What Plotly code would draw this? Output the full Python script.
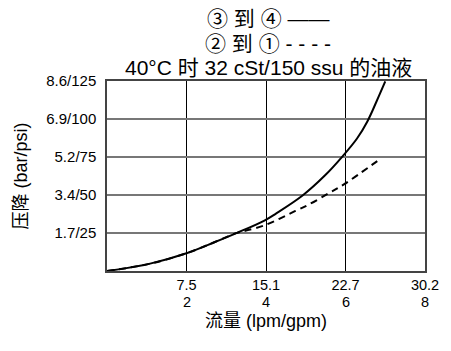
import plotly.graph_objects as go

# Data (flow gpm, pressure drop psi)
solid_x = [0, 1.06, 2.0, 2.7, 3.27, 3.96, 4.25, 4.92, 5.48, 5.92, 6.29, 6.55, 6.78, 7.0]
solid_y = [0, 4.7, 11.7, 18.9, 25.1, 33.2, 37.8, 49.7, 62.8, 75.3, 87.2, 98.4, 111.5, 124.7]
dash_x = [0, 1.06, 2.0, 2.7, 3.27, 3.5, 3.96, 4.74, 5.06, 5.57, 5.96, 6.9]
dash_y = [0, 4.7, 11.7, 18.9, 25.1, 26.6, 30.0, 39.5, 43.5, 51.0, 57.0, 74.2]

x_tickvals = [2, 4, 6, 8]
x_ticktext_lpm = ["7.5", "15.1", "22.7", "30.2"]
x_ticktext_gpm = ["2", "4", "6", "8"]
y_tickvals = [25, 50, 75, 100, 125]
y_ticktext = ["1.7/25", "3.4/50", "5.2/75", "6.9/100", "8.6/125"]

FONT = "Liberation Sans, Arial, Noto Sans CJK SC"
H_PLOT = 190

fig = go.Figure()
fig.add_trace(go.Scatter(x=solid_x, y=solid_y, mode="lines",
                         line=dict(color="black", width=2, shape="spline", smoothing=1.0),
                         showlegend=False, hoverinfo="skip"))
fig.add_trace(go.Scatter(x=dash_x, y=dash_y, mode="lines",
                         line=dict(color="black", width=2, dash="7px,5px", shape="spline", smoothing=1.0),
                         showlegend=False, hoverinfo="skip"))

fig.update_layout(
    width=451, height=351,
    margin=dict(l=107, r=18.5, t=81, b=80),
    paper_bgcolor="white", plot_bgcolor="white",
    font=dict(family=FONT, color="black", size=15),
    xaxis=dict(range=[0, 8], tickvals=x_tickvals, ticktext=x_ticktext_lpm,
               showgrid=True, gridcolor="black", gridwidth=1,
               showline=True, linecolor="#444", linewidth=1.5, mirror=True,
               ticks="", zeroline=False, tickfont=dict(size=14.5), ticklabelstandoff=0,
               title=dict(text="流量 (lpm/gpm)", font=dict(size=18), standoff=22)),
    yaxis=dict(range=[0, 125], tickvals=y_tickvals, ticktext=y_ticktext,
               showgrid=True, gridcolor="#777", gridwidth=1.5,
               showline=True, linecolor="#444", linewidth=1.5, mirror=True,
               ticks="", zeroline=False, tickfont=dict(size=15), ticklabelstandoff=6,
               title=dict(text="压降 (bar/psi)", font=dict(size=18), standoff=14)),
)

# second row of x tick labels (gpm)
for xv, t in zip(x_tickvals, x_ticktext_gpm):
    fig.add_annotation(text=t, x=xv, xref="x", y=-(302 - 271) / H_PLOT, yref="paper",
                       showarrow=False, xanchor="center", yanchor="middle",
                       font=dict(size=14.5))

ann = [("③ 到 ④ ——", 18), ("② 到 ① - - - -", 43), ("40°C 时 32 cSt/150 ssu 的油液", 67)]
for txt, py in ann:
    fig.add_annotation(text=txt, x=(272 - 107) / 325.5, y=1 + (81 - py) / H_PLOT,
                       xref="paper", yref="paper", showarrow=False,
                       xanchor="center", yanchor="middle", font=dict(size=21))

fig.write_html("out.html")
